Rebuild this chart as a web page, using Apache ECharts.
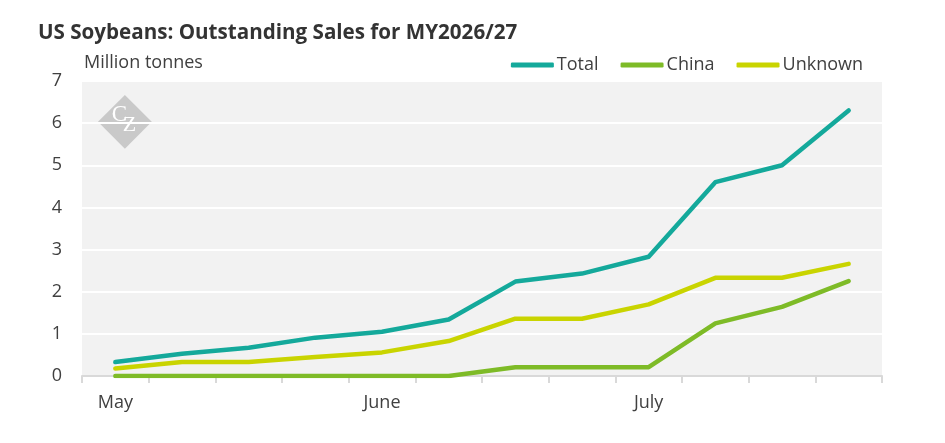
<!DOCTYPE html>
<html>
<head>
<meta charset="utf-8">
<script src="https://cdn.jsdelivr.net/npm/echarts@6/dist/echarts.min.js"></script>
<style>
  html, body { margin: 0; padding: 0; background: #fff; }
  #chart { width: 945px; height: 443px; }
</style>
</head>
<body>
<div id="chart"></div>
<script>
// weekly points, labelled by month at the first week
const weeks = ['W1', 'W2', 'W3', 'W4', 'W5', 'W6', 'W7', 'W8', 'W9', 'W10', 'W11', 'W12'];
const monthLabels = { 0: 'May', 4: 'June', 8: 'July' };

const total = [0.33, 0.53, 0.67, 0.91, 1.05, 1.34, 2.24, 2.43, 2.83, 4.60, 5.00, 6.30];
const china = [0, 0, 0, 0, 0, 0, 0.21, 0.21, 0.21, 1.25, 1.64, 2.25];
const unknown = [0.18, 0.33, 0.33, 0.45, 0.56, 0.83, 1.36, 1.36, 1.70, 2.33, 2.33, 2.66];

const yTicks = [0, 1, 2, 3, 4, 5, 6, 7];

const textColor = '#404040';
const font = 'Open Sans';

const chart = echarts.init(document.getElementById('chart'));

const lineSeries = (name, data, color) => ({
  name,
  type: 'line',
  data,
  symbol: 'none',
  color,
  lineStyle: { width: 4.5, color, cap: 'round', join: 'round' },
  emphasis: { disabled: true },
});

chart.setOption({
  animation: false,
  textStyle: { fontFamily: font },
  title: {
    text: 'US Soybeans: Outstanding Sales for MY2026/27',
    left: 33,
    top: 18,
    textStyle: { fontFamily: font, fontSize: 20.6, fontWeight: 'bold', color: '#333' },
  },
  legend: {
    right: 77,
    top: 51,
    itemGap: 22,
    itemWidth: 43,
    itemHeight: 5,
    icon: 'roundRect',
    textStyle: { fontFamily: font, fontSize: 18, color: textColor, padding: [0, 0, 0, -2] },
    data: ['Total', 'China', 'Unknown'],
  },
  grid: {
    left: 82,
    right: 63,
    top: 81,
    bottom: 67,
    show: true,
    backgroundColor: '#f2f2f2',
    borderWidth: 0,
  },
  xAxis: {
    type: 'category',
    data: weeks,
    boundaryGap: true,
    axisLine: { lineStyle: { color: '#d9d9d9', width: 2 } },
    axisTick: { show: true, length: 7, interval: 0, lineStyle: { color: '#d9d9d9', width: 2 } },
    axisLabel: {
      interval: 0,
      margin: 18,
      fontFamily: font,
      fontSize: 18,
      color: textColor,
      formatter: (v, i) => monthLabels[i] || '',
    },
    splitLine: { show: false },
  },
  yAxis: {
    type: 'value',
    min: yTicks[0],
    max: yTicks[yTicks.length - 1],
    interval: 1,
    name: 'Million tonnes',
    nameLocation: 'end',
    nameGap: 9,
    nameTextStyle: { fontFamily: font, fontSize: 18, color: textColor, align: 'left', padding: [0, 0, 0, 2] },
    axisLine: { show: false },
    axisTick: { show: false },
    axisLabel: { margin: 20, fontFamily: font, fontSize: 18, color: textColor },
    splitLine: { lineStyle: { color: '#ffffff', width: 2 } },
  },
  graphic: [
    {
      type: 'group',
      left: 98,
      top: 95,
      silent: true,
      children: [
        {
          type: 'rect',
          x: 27, y: 26,
          rotation: Math.PI / 4,
          shape: { x: -19, y: -19, width: 38, height: 38 },
          style: { fill: '#c9c9c9' },
        },
        {
          type: 'text',
          x: 14, y: 8,
          style: { text: 'C', fill: '#ffffff', font: '23px "Liberation Serif", serif' },
        },
        {
          type: 'text',
          x: 25, y: 18,
          style: { text: 'Z', fill: '#ffffff', font: '22px "Liberation Serif", serif' },
        },
      ],
    },
  ],
  series: [
    lineSeries('Total', total, '#14a99b'),
    lineSeries('China', china, '#7ebb27'),
    lineSeries('Unknown', unknown, '#c9d400'),
  ],
});
</script>
</body>
</html>
